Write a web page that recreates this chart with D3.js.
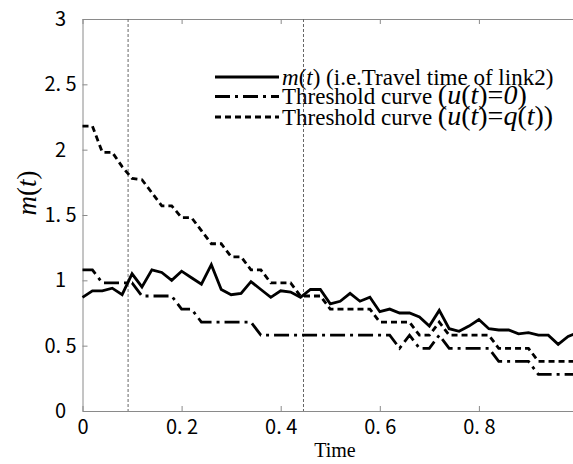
<!DOCTYPE html>
<html>
<head>
<meta charset="utf-8">
<script src="https://cdn.jsdelivr.net/npm/d3@7"></script>
<style>
  body { margin: 0; background: #fff; }
  svg { display: block; }
</style>
</head>
<body>
<div id="chart"></div>
<script>
// sample times
const times = [0, 0.02, 0.04, 0.06, 0.08, 0.1, 0.12, 0.14, 0.16, 0.18,
  0.2, 0.22, 0.24, 0.26, 0.28, 0.3, 0.32, 0.34, 0.36, 0.38,
  0.4, 0.42, 0.44, 0.46, 0.48, 0.5, 0.52, 0.54, 0.56, 0.58,
  0.6, 0.62, 0.64, 0.66, 0.68, 0.7, 0.72, 0.74, 0.76, 0.78,
  0.8, 0.82, 0.84, 0.86, 0.88, 0.9, 0.92, 0.94, 0.96, 0.98, 1];

// m(t), travel time of link2
const travelTime = [0.87, 0.92, 0.92, 0.94, 0.89, 1.05, 0.95, 1.08, 1.06, 1.00,
  1.07, 1.02, 0.97, 1.12, 0.93, 0.89, 0.90, 0.99, 0.93, 0.87,
  0.92, 0.91, 0.87, 0.93, 0.93, 0.82, 0.84, 0.90, 0.84, 0.87,
  0.76, 0.78, 0.75, 0.75, 0.72, 0.65, 0.77, 0.63, 0.61, 0.65,
  0.70, 0.63, 0.62, 0.62, 0.59, 0.60, 0.58, 0.58, 0.51, 0.57, 0.60];

// threshold curve u(t)=0
const thresholdZero = [1.08, 1.08, 0.98, 0.98, 0.98, 0.98, 0.88, 0.88, 0.88, 0.88,
  0.78, 0.78, 0.68, 0.68, 0.68, 0.68, 0.68, 0.68, 0.58, 0.58,
  0.58, 0.58, 0.58, 0.58, 0.58, 0.58, 0.58, 0.58, 0.58, 0.58,
  0.58, 0.58, 0.48, 0.58, 0.48, 0.48, 0.58, 0.48, 0.48, 0.48,
  0.48, 0.48, 0.38, 0.38, 0.38, 0.38, 0.28, 0.28, 0.28, 0.28, 0.28];

// threshold curve u(t)=q(t)
const thresholdQ = [2.18, 2.18, 1.98, 1.98, 1.87, 1.78, 1.77, 1.67, 1.57, 1.57,
  1.48, 1.48, 1.38, 1.28, 1.28, 1.18, 1.18, 1.08, 1.08, 0.98,
  0.98, 0.98, 0.88, 0.88, 0.88, 0.78, 0.78, 0.78, 0.78, 0.78,
  0.68, 0.68, 0.68, 0.68, 0.58, 0.58, 0.68, 0.58, 0.58, 0.58,
  0.58, 0.58, 0.48, 0.48, 0.48, 0.48, 0.38, 0.38, 0.38, 0.38, 0.38];

const markerTimes = [0.092, 0.446];

const xTicks = [0, 0.2, 0.4, 0.6, 0.8, 1];
const xTickLabels = ["0", "0. 2", "0. 4", "0. 6", "0. 8", "1"];
const yTicks = [0, 0.5, 1, 1.5, 2, 2.5, 3];
const yTickLabels = ["0", "0. 5", "1", "1. 5", "2", "2. 5", "3"];

const W = 573, H = 464;
const plotLeft = 82.5, plotRight = 578, plotTop = 19, plotBottom = 411;
const tickFont = "'Noto Sans CJK JP', sans-serif";
const serif = "'Liberation Serif', serif";
const axisGrey = "#8a8a8a";

const svg = d3.select("#chart").append("svg")
  .attr("width", W)
  .attr("height", H)
  .style("background", "#fff");

const x = d3.scaleLinear().domain([0, 1]).range([plotLeft, plotRight]);
const y = d3.scaleLinear().domain([0, 3]).range([plotBottom, plotTop]);

// axes (ticks point inward)
function styleAxis(g) {
  g.select(".domain").attr("stroke", axisGrey);
  g.selectAll(".tick line").attr("stroke", axisGrey);
  g.selectAll(".tick text")
    .attr("fill", "#000")
    .style("font-family", tickFont)
    .style("font-size", "20px");
}

svg.append("g")
  .attr("transform", `translate(0,${plotBottom})`)
  .call(d3.axisBottom(x).tickValues(xTicks).tickFormat((d, i) => xTickLabels[i])
    .tickSizeInner(-5).tickSizeOuter(0).tickPadding(9))
  .call(styleAxis);

svg.append("g")
  .attr("transform", `translate(${plotLeft},0)`)
  .call(d3.axisLeft(y).tickValues(yTicks).tickFormat((d, i) => yTickLabels[i])
    .tickSizeInner(-5).tickSizeOuter(0).tickPadding(22))
  .call(styleAxis)
  .call(g => g.selectAll(".tick text").attr("text-anchor", "middle"));

svg.append("g")
  .attr("transform", `translate(0,${plotTop})`)
  .call(d3.axisTop(x).tickValues(xTicks).tickFormat("").tickSizeInner(-5).tickSizeOuter(0))
  .call(styleAxis);

svg.append("g")
  .attr("transform", `translate(${plotRight},0)`)
  .call(d3.axisRight(y).tickValues(yTicks).tickFormat("").tickSizeInner(-5).tickSizeOuter(0))
  .call(styleAxis);

// vertical marker lines
svg.selectAll(".marker")
  .data(markerTimes)
  .enter().append("line")
  .attr("x1", d => x(d)).attr("x2", d => x(d))
  .attr("y1", plotTop).attr("y2", plotBottom)
  .attr("stroke", "#666")
  .attr("stroke-width", 1)
  .attr("stroke-dasharray", "3,2");

// curves
const series = [
  { name: "m", values: travelTime, dash: null },
  { name: "u0", values: thresholdZero, dash: "15,5,3,5" },
  { name: "uq", values: thresholdQ, dash: "6,4" }
];

const line = d3.line()
  .x((d, i) => x(times[i]))
  .y(d => y(d));

svg.selectAll(".curve")
  .data(series)
  .enter().append("path")
  .attr("d", d => line(d.values))
  .attr("fill", "none")
  .attr("stroke", "#000")
  .attr("stroke-width", 2.8)
  .attr("stroke-dasharray", d => d.dash);

// legend: [text, style, size]
const legendRows = [
  [["m", "italic", 23], ["(", "normal", 23], ["t", "italic", 23], [")", "normal", 23],
   [" (i.e.Travel time of link2)", "normal", 23]],
  [["Threshold curve ", "normal", 23], ["(", "normal", 28], ["u", "italic", 28],
   ["(", "normal", 28], ["t", "italic", 28], [")=", "normal", 28], ["0", "italic", 28], [")", "normal", 28]],
  [["Threshold curve ", "normal", 23], ["(", "normal", 28], ["u", "italic", 28],
   ["(", "normal", 28], ["t", "italic", 28], [")=", "normal", 28], ["q", "italic", 28],
   ["(", "normal", 28], ["t", "italic", 28], ["))", "normal", 28]]
];
const legendY = [77, 96.5, 117];

const legend = svg.append("g");
legendRows.forEach((row, i) => {
  legend.append("line")
    .attr("x1", 215).attr("x2", 279)
    .attr("y1", legendY[i]).attr("y2", legendY[i])
    .attr("stroke", "#000")
    .attr("stroke-width", 2.8)
    .attr("stroke-dasharray", series[i].dash);
  const t = legend.append("text")
    .attr("x", 282)
    .attr("y", legendY[i] + 7.5)
    .style("font-family", serif);
  row.forEach(p => {
    t.append("tspan")
      .style("font-style", p[1])
      .style("font-size", p[2] + "px")
      .text(p[0]);
  });
});

// axis titles
svg.append("text")
  .attr("x", 335).attr("y", 457)
  .attr("text-anchor", "middle")
  .style("font-family", serif)
  .style("font-size", "20px")
  .text("Time");

const yTitle = svg.append("text")
  .attr("transform", "translate(36,193) rotate(-90)")
  .attr("text-anchor", "middle")
  .style("font-family", serif)
  .style("font-size", "27px");
yTitle.append("tspan").style("font-style", "italic").text("m");
yTitle.append("tspan").text("(");
yTitle.append("tspan").style("font-style", "italic").text("t");
yTitle.append("tspan").text(")");
</script>
</body>
</html>
